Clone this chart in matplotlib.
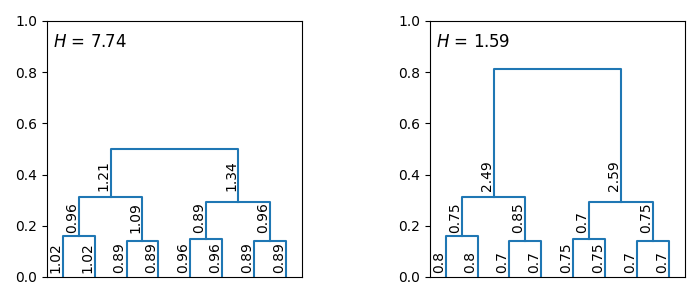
import numpy as np
import matplotlib
matplotlib.use('Agg')
import matplotlib.pyplot as plt

# 两棵树的合并高度（叶子对 / 中间层 / 顶层）
left_pair_h = [0.16, 0.14, 0.15, 0.14]
left_mid_h = [0.3125, 0.293]
left_top_h = 0.50
left_leaf_lab = ['1.02', '1.02', '0.89', '0.89', '0.96', '0.96', '0.89', '0.89']
left_mid_lab = ['0.96', '1.09', '0.89', '0.96']
left_top_lab = ['1.21', '1.34']
left_H = '7.74'

right_pair_h = [0.16, 0.14, 0.15, 0.14]
right_mid_h = [0.314, 0.294]
right_top_h = 0.8125
right_leaf_lab = ['0.8', '0.8', '0.7', '0.7', '0.75', '0.75', '0.7', '0.7']
right_mid_lab = ['0.75', '0.85', '0.7', '0.75']
right_top_lab = ['2.49', '2.59']
right_H = '1.59'

color = '#1f77b4'


def label(ax, x, y0, txt, dy):
    # 同一层的标签对齐在同一高度，贴在竖线左侧往上写
    ax.annotate(txt, (x, y0), xytext=(0, dy), textcoords='offset points',
                rotation=90, ha='right', va='bottom', fontsize=10)


def merge(ax, xa, ha, xb, hb, h, la, lb, base, dy):
    ax.plot([xa, xa, xb, xb], [ha, h, h, hb], color=color, lw=1.5)
    label(ax, xa, base, la, dy)
    label(ax, xb, base, lb, dy)


def draw_tree(ax, pair_h, mid_h, top_h, leaf_lab, mid_lab, top_lab, H):
    leaves = np.arange(8) + 0.5
    pair_x = []
    for i, h in enumerate(pair_h):
        xa, xb = leaves[2 * i], leaves[2 * i + 1]
        merge(ax, xa, 0, xb, 0, h, leaf_lab[2 * i], leaf_lab[2 * i + 1], 0, 3)
        pair_x.append((xa + xb) / 2)
    mid_x = []
    for i, h in enumerate(mid_h):
        xa, xb = pair_x[2 * i], pair_x[2 * i + 1]
        merge(ax, xa, pair_h[2 * i], xb, pair_h[2 * i + 1], h,
              mid_lab[2 * i], mid_lab[2 * i + 1], max(pair_h), 2)
        mid_x.append((xa + xb) / 2)
    merge(ax, mid_x[0], mid_h[0], mid_x[1], mid_h[1], top_h,
          top_lab[0], top_lab[1], max(mid_h), 4)
    ax.set_xlim(0, 8)
    ax.set_ylim(0, 1)
    ax.set_xticks([])
    ax.set_yticks(np.arange(0, 1.01, 0.2))
    ax.text(0.025, 0.955, '$H$ = ' + H, transform=ax.transAxes,
            ha='left', va='top', fontsize=12)


fig = plt.figure(figsize=(7, 3), dpi=100)
ax1 = fig.add_axes([0.067, 0.077, 0.364, 0.853])
ax2 = fig.add_axes([0.614, 0.077, 0.364, 0.853])

draw_tree(ax1, left_pair_h, left_mid_h, left_top_h,
          left_leaf_lab, left_mid_lab, left_top_lab, left_H)
draw_tree(ax2, right_pair_h, right_mid_h, right_top_h,
          right_leaf_lab, right_mid_lab, right_top_lab, right_H)

plt.savefig('out.png', dpi=100)
